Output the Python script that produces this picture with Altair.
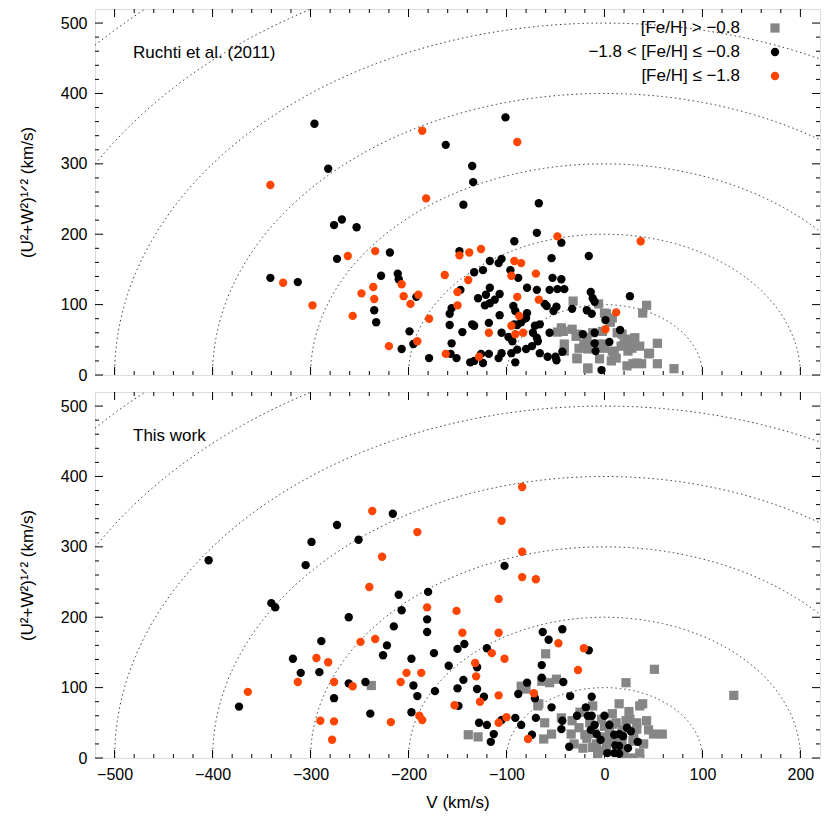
import numpy as np
import pandas as pd
import altair as alt

# ---------------- data (V, sqrt(U^2+W^2)) in km/s ----------------
top_gray = [(-32,105),(-6,101),(2,87),(8,81),(39,88),(43,99),
    (-48,61),(-42,62),(-33,65),(-29,55),(-18,53),(-12,60),(-2,62),(6,75),(13,60),(18,58),(23,51),(31,53),
    (-41,44),(-26,38),(-21,44),(-17,37),(-2,44),(8,34),(20,45),(28,38),(36,41),(46,31),(54,45),
    (-28,23),(-17,9),(-5,23),(7,20),(12,24),(23,13),(33,17),(38,16),(54,16),(71,9),
    (0,88),(-44,67),(-28,58),(-18,48),(-7,44),(0,38),(10,30),(17,41),(26,41),(-41,34),(-28,24),
    (-17,10),(29,16),(30,48),(24,34),(45,30)]
top_black = [(-296,357),(-162,327),(-282,293),(-276,213),(-268,221),(-253,210),(-219,174),(-273,165),
    (-341,138),(-313,132),(-228,141),(-211,144),(-210,136),(-192,111),(-235,92),(-233,75),(-199,62),
    (-195,44),(-207,37),(-179,24),(-157,30),(-151,24),(-156,95),(-158,87),(-158,71),(-156,45),(-148,176),
    (-101,366),(-135,297),(-134,274),(-144,242),(-67,244),(-69,202),(-44,188),(-92,190),(-16,169),(-54,166),
    (-117,162),(-105,165),(-108,159),(-96,149),(-88,138),(-79,124),(-117,124),(-107,115),(-53,138),(-44,136),
    (-69,121),(-56,121),(-48,122),(-41,122),(-14,118),(26,112),(-147,121),(-133,146),(-124,149),
    (-129,109),(-121,114),(-122,99),(-117,102),(-112,107),(-107,85),(-93,98),(-91,91),(-61,101),(-59,98),
    (-52,91),(-49,97),(-33,94),(-12,109),(-10,104),(-18,92),(-13,87),(-79,88),(-82,80),
    (-145,61),(-135,72),(-133,70),(-118,74),(-92,72),(-89,71),(-85,75),(-80,81),(-105,60),(-98,54),(-94,48),
    (-71,70),(-66,72),(-73,60),(-69,53),(-68,48),(-56,60),(1,78),(-22,58),(-10,60),(-10,45),(-9,34),(5,47),(16,64),
    (-137,18),(-133,20),(-126,30),(-124,17),(-118,30),(-108,24),(-105,31),(-95,31),(-89,36),(-91,18),(-80,37),
    (-66,31),(-58,26),(-50,26),(-49,21),(-74,41),(-3,7),(-43,33)]
top_orange = [(-186,347),(-341,270),(-182,251),(-234,176),(-262,169),(-328,131),(-298,99),(-207,129),
    (-236,125),(-248,116),(-235,108),(-205,112),(-190,114),(-198,101),(-257,84),(-179,80),(-191,48),(-220,41),
    (-163,142),(-162,30),(-148,170),(-150,118),(-150,99),
    (-89,331),(-48,197),(37,190),(-138,174),(-126,179),(-92,162),(-85,159),(-95,141),(-70,144),(-139,135),
    (-67,107),(-89,111),(12,89),(-87,84),(-118,60),(-95,70),(-91,58),(-83,60),(1,65),(-128,26)]

bot_gray = [(-238,103),(-139,33),(-129,30),(-60,148),(51,126),(22,107),(132,89),(-56,107),(-49,112),(-64,109),
    (-85,102),(-80,98),(-67,77),(-61,50),(-54,34),(-62,27),(-44,57),(-84,99),(-68,74),
    (-12,74),(8,63),(15,77),(22,53),(36,74),(39,77),(43,53),(33,41),(50,34),(59,34),(-33,53),(-26,43),(-31,20),
    (-22,14),(-8,20),(-5,10),(8,48),(18,24),(29,24),(36,7),(29,0),(-7,6),(-18,28),(-34,34),
    (-2,30),(5,38),(12,28),(20,12),(26,55),(-15,50),(0,45),(-10,35),
    (-25,65),(-20,33),(-3,55),(2,18),(12,50),(18,40),(25,66),(30,30),(40,20),(45,40),(-12,15),(3,28),
    (20,3),(33,50)]
bot_black = [(-404,281),(-340,220),(-336,214),(-305,274),(-299,307),(-273,331),(-251,310),(-216,347),(-210,232),
    (-207,210),(-180,236),(-181,197),(-181,179),(-215,187),(-261,200),(-289,166),(-222,160),(-226,146),(-318,141),
    (-310,121),(-291,122),(-261,106),(-244,108),(-276,85),(-197,141),(-195,103),(-191,88),(-173,95),(-174,149),
    (-159,131),(-150,155),(-373,73),(-239,63),(-197,65),(-150,99),(-149,74),
    (-102,273),(-143,162),(-120,156),(-130,129),(-144,111),(-130,98),(-123,87),(-128,50),(-120,47),(-105,54),
    (-113,34),(-116,23),(-91,57),(-85,47),(-74,33),(-63,179),(-57,168),(-43,183),(-16,153),(-64,132),(-64,114),
    (-42,108),(-79,107),(-88,91),(-71,85),(-54,72),(-35,88),(-13,87),(-70,57),(-43,53),(-44,41),(-36,16),
    (-19,72),(-28,60),(-17,60),(-10,47),(0,60),(5,47),(-14,40),(-4,26),(-8,34),(10,33),(15,34),(19,31),(23,43),
    (27,38),(34,23),(24,14),(11,18),(15,17),(3,7),(10,7),(15,6),(-13,60)]
bot_orange = [(-237,351),(-191,321),(-227,286),(-240,243),(-181,214),(-249,165),(-234,169),(-294,142),(-282,136),
    (-313,108),(-276,108),(-257,102),(-202,121),(-187,121),(-208,108),(-151,209),(-364,94),(-290,53),(-276,52),
    (-278,26),(-218,51),(-189,60),(-186,54),(-153,75),
    (-84,385),(-105,337),(-84,293),(-84,257),(-70,254),(-108,226),(-145,178),(-108,178),(-115,149),(-102,141),
    (-132,135),(-131,116),(-108,89),(-127,80),(-100,58),(-108,50),(-78,27),(-47,163),(-21,156),(-27,125),(-72,92)]

legend_labels = ["[Fe/H] > \u22120.8", "\u22121.8 < [Fe/H] \u2264 \u22120.8", "[Fe/H] \u2264 \u22121.8"]
panel_labels = ["Ruchti et al. (2011)", "This work"]
radii = [100, 200, 300, 400, 500, 600, 700]
x_major = list(range(-500, 201, 100))
y_major = list(range(0, 501, 100))

GRAY, BLACK, ORANGE = "#868686", "#000000", "#ff4500"
W, H = 725, 366
FONT = "Liberation Sans"
TXT = 17

# ---------------- helpers ----------------
xscale = alt.Scale(domain=[-520, 220], nice=False, zero=False)
yscale = alt.Scale(domain=[0, 520], nice=False, zero=False)


def xenc(show_axis):
    if show_axis:
        ax = alt.Axis(values=x_major, title="V (km/s)", ticks=False, domain=False, grid=False,
                      labelFontSize=16, titleFontSize=TXT, labelPadding=8, titlePadding=12,
                      titleFontWeight="normal", labelFont=FONT, titleFont=FONT, labelColor="black",
                      titleColor="black")
    else:
        ax = None
    return alt.X("V:Q", scale=xscale, axis=ax)


def yenc():
    ax = alt.Axis(values=y_major, title="(U\u00b2+W\u00b2)\u00b9\u141f\u00b2 (km/s)", ticks=False, domain=False,
                  grid=False, labelFontSize=16, titleFontSize=TXT, labelPadding=8, titlePadding=24,
                  titleFontWeight="normal", labelFont=FONT, titleFont=FONT, labelColor="black",
                  titleColor="black")
    return alt.Y("Y:Q", scale=yscale, axis=ax)


one = pd.DataFrame({"a": [0]})


def tick_layers(show_x):
    xmin = [v for v in range(-500, 220, 20) if v % 100 != 0]
    ymin = [v for v in range(20, 520, 20) if v % 100 != 0]
    layers = []
    for vals, L in ((x_major, 8), (xmin, 4)):
        d = pd.DataFrame({"V": vals})
        base = alt.Chart(d).mark_rule(color="black", strokeWidth=1)
        layers.append(base.encode(x=xenc(show_x), y=alt.value(H), y2=alt.value(H - L)))
        layers.append(base.encode(x=xenc(show_x), y=alt.value(0), y2=alt.value(L)))
    for vals, L in ((y_major, 8), (ymin, 4)):
        d = pd.DataFrame({"Y": vals})
        base = alt.Chart(d).mark_rule(color="black", strokeWidth=1)
        layers.append(base.encode(y=yenc(), x=alt.value(0), x2=alt.value(L)))
        layers.append(base.encode(y=yenc(), x=alt.value(W), x2=alt.value(W - L)))
    return layers


def panel(gray, black, orange, label, show_x, legend):
    rows = []
    for r in radii:
        for t in np.linspace(0, np.pi, 721):
            rows.append({"r": r, "V": r * np.cos(t), "Y": r * np.sin(t)})
    circ = alt.Chart(pd.DataFrame(rows)).mark_line(
        clip=True, color="#222222", strokeWidth=0.9, strokeDash=[1.5, 3]
    ).encode(x=xenc(show_x), y=yenc(), detail="r:N")

    dg = pd.DataFrame(gray, columns=["V", "Y"])
    db = pd.DataFrame(black, columns=["V", "Y"])
    do = pd.DataFrame(orange, columns=["V", "Y"])
    pg = alt.Chart(dg).mark_square(size=85, color=GRAY, opacity=1, clip=True).encode(x=xenc(show_x), y=yenc())
    pb = alt.Chart(db).mark_circle(size=70, color=BLACK, opacity=1, clip=True).encode(x=xenc(show_x), y=yenc())
    po = alt.Chart(do).mark_circle(size=70, color=ORANGE, opacity=1, clip=True).encode(x=xenc(show_x), y=yenc())

    txt = alt.Chart(one).mark_text(align="left", baseline="middle", fontSize=TXT, font=FONT, color="black").encode(
        x=alt.value(38), y=alt.value(44), text=alt.value(label))

    layers = [circ] + tick_layers(show_x) + [pg, pb, po, txt]
    if legend:
        ys = [19, 43, 67]
        for lab, yy in zip(legend_labels, ys):
            layers.append(alt.Chart(one).mark_text(align="right", baseline="middle", fontSize=TXT, font=FONT,
                                                   color="black").encode(
                x=alt.value(645), y=alt.value(yy), text=alt.value(lab)))
        layers.append(alt.Chart(one).mark_square(size=85, color=GRAY, opacity=1).encode(
            x=alt.value(680), y=alt.value(ys[0])))
        layers.append(alt.Chart(one).mark_circle(size=70, color=BLACK, opacity=1).encode(
            x=alt.value(680), y=alt.value(ys[1])))
        layers.append(alt.Chart(one).mark_circle(size=70, color=ORANGE, opacity=1).encode(
            x=alt.value(680), y=alt.value(ys[2])))
    return alt.layer(*layers).properties(width=W, height=H)


top = panel(top_gray, top_black, top_orange, panel_labels[0], False, True)
bottom = panel(bot_gray, bot_black, bot_orange, panel_labels[1], True, False)

chart = alt.vconcat(top, bottom, spacing=7).properties(
    padding={"left": 9, "top": 0, "right": 0, "bottom": 0}
).configure_view(
    stroke="black", strokeWidth=1
).configure(background="white", font=FONT)

chart.save("out.html", embed_options={"renderer": "svg", "actions": False})
